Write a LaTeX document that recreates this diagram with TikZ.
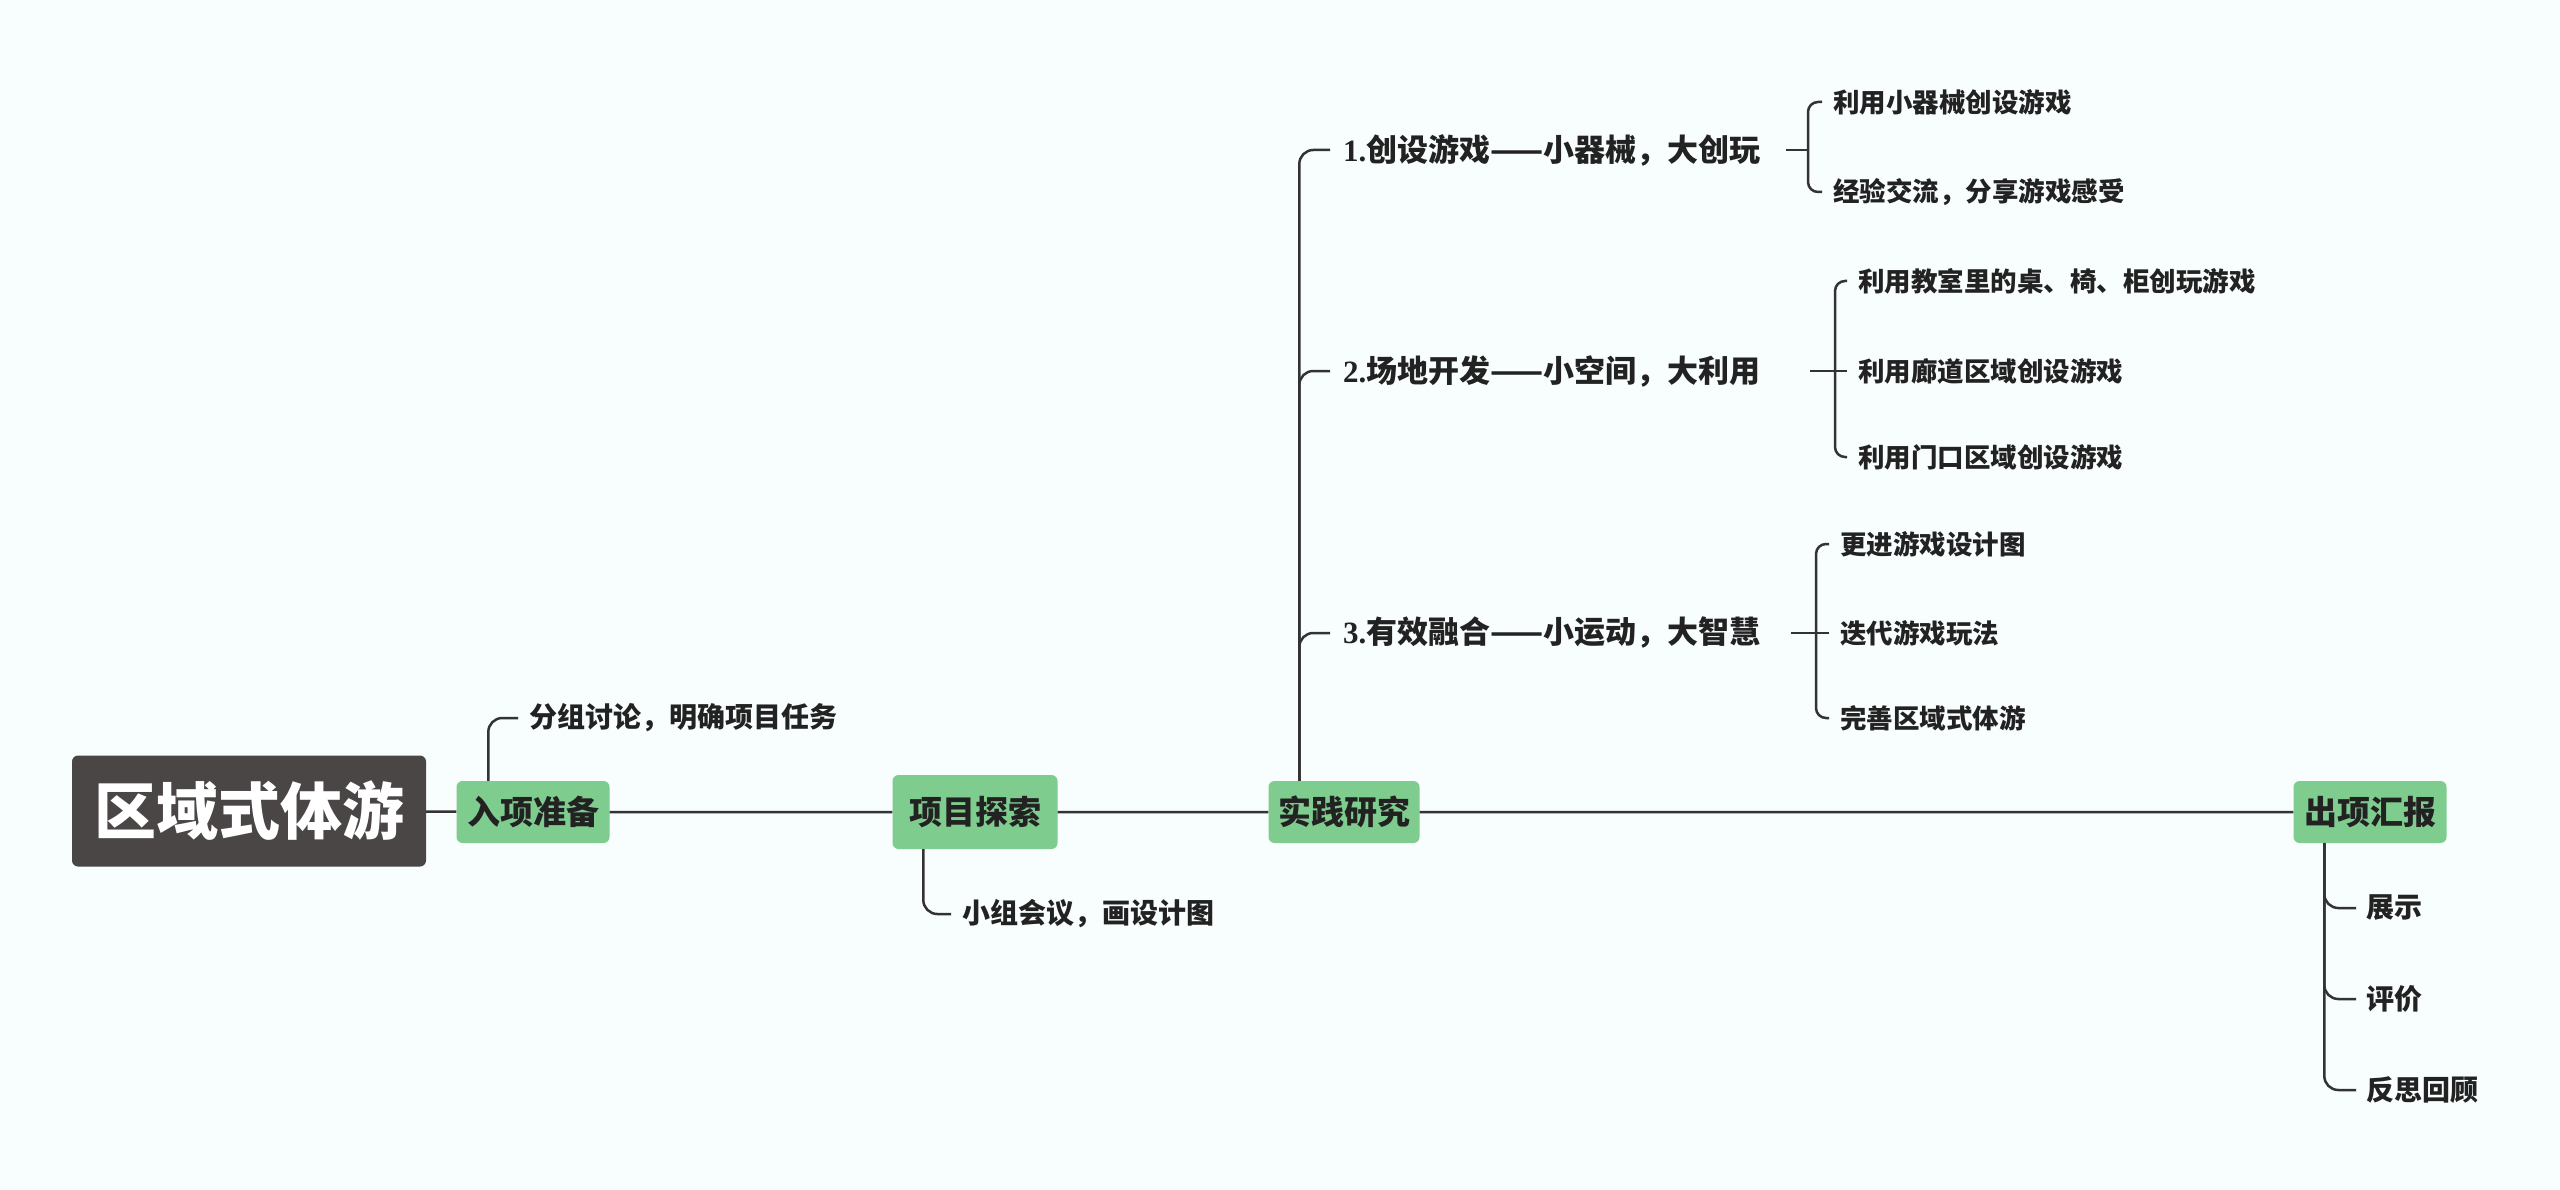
\documentclass[tikz,border=0pt]{standalone}
\usepackage{fontspec}
\usepackage{xcolor}
\usepackage{tikz}
\usetikzlibrary{positioning}
\setmainfont{Noto Sans CJK SC}
\newfontfamily\numfont{Liberation Serif}
\definecolor{bgcol}{HTML}{F8FDFE}
\definecolor{boxgreen}{HTML}{7FCC8F}
\definecolor{rootgray}{HTML}{4B4646}
\definecolor{linkgray}{HTML}{333333}
\definecolor{txtdark}{HTML}{222222}
\tikzset{
  link/.style={draw=linkgray, line width=2.5pt, rounded corners=14pt},
  brace/.style={draw=linkgray, line width=2.5pt, rounded corners=10pt},
  stage/.style={fill=boxgreen, rounded corners=6pt, text=txtdark,
    font=\fontsize{33}{36}\selectfont\bfseries,
    minimum width=153pt, minimum height=62pt, inner sep=0pt},
  topic/.style={anchor=west, inner xsep=13pt, inner ysep=2pt, text=txtdark,
    font=\fontsize{31}{34}\selectfont\bfseries},
  leaf/.style={anchor=west, inner xsep=11pt, inner ysep=2pt, text=txtdark,
    font=\fontsize{28}{32}\selectfont\bfseries},
  subleaf/.style={leaf, font=\fontsize{26.5}{30}\selectfont\bfseries}
}

\begin{document}
\begin{tikzpicture}[x=1pt, y=-1pt]
  \path[fill=bgcol] (0,0) rectangle (2560,1190);

  % main line
  \node[fill=rootgray, rounded corners=6pt, text=white, inner sep=0pt,
        minimum width=354pt, minimum height=111pt,
        font=\fontsize{62}{66}\selectfont\bfseries] (root) at (249,811) {区域式体游};
  \node[stage] (prep) at (533,812) {入项准备};
  \node[stage, minimum width=165pt, minimum height=74pt] (explore) at (975,812) {项目探索};
  \node[stage, minimum width=151pt] (practice) at (1344,812) {实践研究};
  \node[stage] (report) at (2370,812) {出项汇报};
  \draw[link] (root) -- (prep) -- (explore) -- (practice) -- (report);

  \node[leaf] (c0) at (518,718) {分组讨论，明确项目任务};
  \draw[link] ([xshift=32pt]prep.north west) |- (c0.west);

  \node[leaf] (c1) at (951,914) {小组会议，画设计图};
  \draw[link] ([xshift=31pt]explore.south west) |- (c1.west);

  % practice
  \node[topic] (g1) at (1330,150) {{\numfont\bfseries 1.}创设游戏——小器械，大创玩};
  \node[topic] (g2) at (1330,371) {{\numfont\bfseries 2.}场地开发——小空间，大利用};
  \node[topic] (g3) at (1330,633) {{\numfont\bfseries 3.}有效融合——小运动，大智慧};
  \foreach \g in {g1,g2,g3}
    \draw[link] ([xshift=31pt]practice.north west) |- (\g.west);

  \coordinate (b1) at (1808,150);
  \node[subleaf] (s11) at (1822,102) {利用小器械创设游戏};
  \node[subleaf] (s12) at (1822,192) {经验交流，分享游戏感受};
  \draw[brace] (s11.west) -| (b1) |- (s12.west);
  \draw[brace] ([xshift=12pt]g1.east) -- (b1);

  \coordinate (b2) at (1835,371);
  \node[subleaf] (s21) at (1847,281) {利用教室里的桌、椅、柜创玩游戏};
  \node[subleaf] (s22) at (1847,371) {利用廊道区域创设游戏};
  \node[subleaf] (s23) at (1847,457) {利用门口区域创设游戏};
  \draw[brace] (s21.west) -| (b2) |- (s23.west);
  \draw[brace] ([xshift=36pt]g2.east) -- (s22.west);

  \coordinate (b3) at (1816,633);
  \node[subleaf] (s31) at (1829,544) {更进游戏设计图};
  \node[subleaf] (s32) at (1829,633) {迭代游戏玩法};
  \node[subleaf] (s33) at (1829,718) {完善区域式体游};
  \draw[brace] (s31.west) -| (b3) |- (s33.west);
  \draw[brace] ([xshift=17pt]g3.east) -- (s32.west);

  % report
  \node[leaf, inner xsep=10pt] (r1) at (2356,908) {展示};
  \node[leaf, inner xsep=10pt] (r2) at (2356,999) {评价};
  \node[leaf, inner xsep=10pt] (r3) at (2356,1090) {反思回顾};
  \foreach \r in {r1,r2,r3}
    \draw[link] ([xshift=31pt]report.south west) |- (\r.west);
\end{tikzpicture}
\end{document}
